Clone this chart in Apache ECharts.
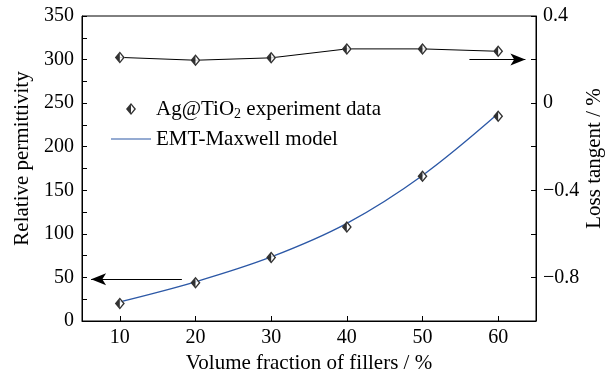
<!DOCTYPE html>
<html>
<head>
<meta charset="utf-8">
<script src="https://cdn.jsdelivr.net/npm/echarts@6/dist/echarts.min.js"></script>
<style>
  html, body { margin: 0; padding: 0; background: #fff; }
  #main { width: 609px; height: 370px; }
</style>
</head>
<body>
<div id="main"></div>
<script>
// volume fraction of fillers (%)
var fractions = [10, 20, 30, 40, 50, 60];
// relative permittivity, experiment (left axis)
var permExp = [20, 44, 73, 108, 166, 235];
// relative permittivity, EMT-Maxwell model (left axis)
var permModel = [22, 45, 73.5, 112, 167, 238];
// loss tangent, experiment (right axis)
var lossExp = [0.21, 0.197, 0.208, 0.249, 0.249, 0.238];
var xTicks = [10, 20, 30, 40, 50, 60];

function pairs(ys) {
  return fractions.map(function (x, i) { return [x, ys[i]]; });
}

// diamond, left half filled
var halfDiamond = 'path://M5,0 L10,6 L5,12 L0,6 Z M5,2 L1.8,6 L5,10 L8.2,6 Z M5,0 L5,12 L0,6 Z';
var lineIcon = 'path://M0,0 L40,0 L40,1.2 L0,1.2 Z';
var font = 'Liberation Serif';

var myChart = echarts.init(document.getElementById('main'));
var option = {
  animation: false,
  textStyle: { fontFamily: font, color: '#000' },
  grid: {
    left: 82, right: 73, top: 16, bottom: 49, outerBoundsMode: 'none',
    show: true, borderColor: '#000', borderWidth: 1
  },
  legend: {
    orient: 'vertical',
    left: 106, top: 92,
    itemWidth: 40, itemHeight: 12, itemGap: 6,
    data: [
      { name: 'Ag@TiO2 experiment data', icon: halfDiamond },
      { name: 'EMT-Maxwell model', icon: lineIcon }
    ],
    formatter: function (name) {
      return name === 'Ag@TiO2 experiment data' ? 'Ag@TiO{s|2} experiment data' : name;
    },
    textStyle: {
      fontFamily: font, fontSize: 21, color: '#000', lineHeight: 24,
      rich: { s: { fontFamily: font, fontSize: 14, lineHeight: 14, verticalAlign: 'bottom' } }
    }
  },
  xAxis: {
    type: 'value', min: 5, max: 65,
    name: 'Volume fraction of fillers / %', nameLocation: 'middle', nameGap: 30,
    nameTextStyle: { fontFamily: font, fontSize: 21, color: '#000' },
    axisLine: { lineStyle: { color: '#000', width: 1 } },
    axisTick: { inside: true, length: 5, customValues: xTicks, lineStyle: { color: '#000' } },
    axisLabel: { customValues: xTicks, fontFamily: font, fontSize: 20, color: '#000', margin: 7 },
    splitLine: { show: false }
  },
  yAxis: [
    {
      type: 'value', min: 0, max: 350, interval: 25,
      name: 'Relative permittivity', nameLocation: 'middle', nameGap: 49, nameRotate: 90,
      nameTextStyle: { fontFamily: font, fontSize: 21, color: '#000', padding: [0, 0, 0, 20] },
      axisLine: { show: true, lineStyle: { color: '#000', width: 1 } },
      axisTick: { show: true, inside: true, length: 5, lineStyle: { color: '#000' } },
      axisLabel: {
        fontFamily: font, fontSize: 20, color: '#000', margin: 8,
        formatter: function (v) { return v % 50 === 0 ? String(v) : ''; }
      },
      splitLine: { show: false }
    },
    {
      type: 'value', min: -1, max: 0.4, interval: 0.2, position: 'right',
      name: 'Loss tangent / %', nameLocation: 'middle', nameGap: 48, nameRotate: 90,
      nameMoveOverlap: false,
      nameTextStyle: { fontFamily: font, fontSize: 21, color: '#000', padding: [0, 0, 0, 20] },
      axisLine: { show: true, lineStyle: { color: '#000', width: 1 } },
      axisTick: { show: true, inside: true, length: 5, lineStyle: { color: '#000' } },
      axisLabel: {
        fontFamily: font, fontSize: 20, color: '#000', margin: 7,
        formatter: function (v) {
          var k = Math.round(v * 10);
          if (k % 4 !== 0) return '';
          return k < 0 ? '\u2212' + Math.abs(k / 10) : String(k / 10);
        }
      },
      splitLine: { show: false }
    }
  ],
  series: [
    {
      name: 'EMT-Maxwell model', type: 'line', yAxisIndex: 0, smooth: 0.35,
      data: pairs(permModel), symbol: 'none',
      itemStyle: { color: '#2c58a6' },
      lineStyle: { color: '#2c58a6', width: 1.3 },
      markLine: {
        silent: true, symbol: ['none', 'arrow'], symbolSize: [9, 15],
        label: { show: false },
        lineStyle: { color: '#000', width: 1, type: 'solid' },
        data: [[{ coord: [18.2, 48] }, { coord: [6.2, 48] }]]
      }
    },
    {
      name: 'Loss tangent', type: 'line', yAxisIndex: 1,
      data: pairs(lossExp), symbol: 'none',
      lineStyle: { color: '#000', width: 1 },
      markLine: {
        silent: true, symbol: ['none', 'arrow'], symbolSize: [9, 15],
        label: { show: false },
        lineStyle: { color: '#000', width: 1, type: 'solid' },
        data: [[{ coord: [56.2, 0.2] }, { coord: [63.6, 0.2] }]]
      }
    },
    {
      name: 'bgPerm', type: 'scatter', yAxisIndex: 0, data: pairs(permExp),
      symbol: 'diamond', symbolSize: [10, 12], itemStyle: { color: '#fff' }, z: 3
    },
    {
      name: 'bgLoss', type: 'scatter', yAxisIndex: 1, data: pairs(lossExp),
      symbol: 'diamond', symbolSize: [10, 12], itemStyle: { color: '#fff' }, z: 3
    },
    {
      name: 'Ag@TiO2 experiment data', type: 'scatter', yAxisIndex: 0, data: pairs(permExp),
      symbol: halfDiamond, symbolSize: [10, 12], itemStyle: { color: '#000' }, z: 4
    },
    {
      name: 'Ag@TiO2 experiment data', type: 'scatter', yAxisIndex: 1, data: pairs(lossExp),
      symbol: halfDiamond, symbolSize: [10, 12], itemStyle: { color: '#000' }, z: 4
    }
  ]
};
myChart.setOption(option);
</script>
</body>
</html>
